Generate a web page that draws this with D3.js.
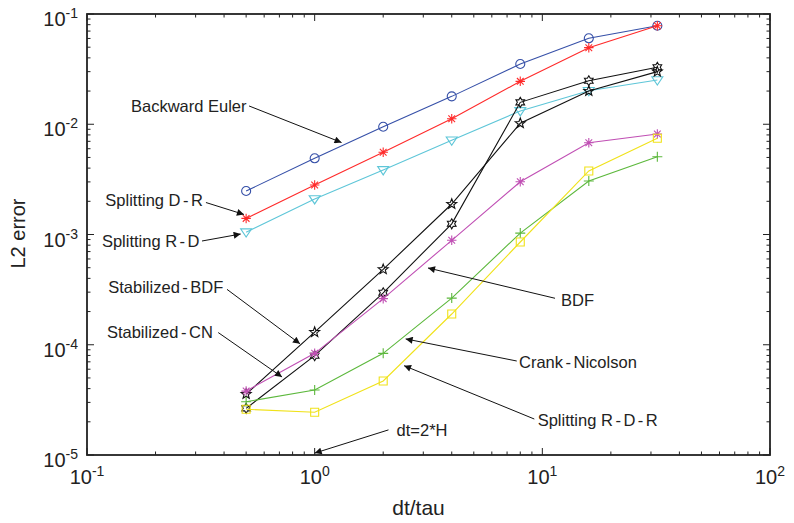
<!DOCTYPE html>
<html>
<head>
<meta charset="utf-8">
<script src="https://cdn.jsdelivr.net/npm/d3@7"></script>
<style>
  body { margin: 0; background: #fff; }
  text { font-family: "Liberation Sans", Arial, sans-serif; fill: #222; }
</style>
</head>
<body>
<div id="chart"></div>
<script>
// step ratio dt/tau used for every method
var dtRatio = [0.5, 1, 2, 4, 8, 16, 32];

// L2 error per method
var backwardEuler  = [2.48e-3, 4.91e-3, 9.5e-3, 1.79e-2, 3.52e-2, 6.02e-2, 7.83e-2];
var splittingDR    = [1.40e-3, 2.81e-3, 5.57e-3, 1.12e-2, 2.45e-2, 4.95e-2, 7.83e-2];
var splittingRD    = [1.05e-3, 2.10e-3, 3.85e-3, 7.15e-3, 1.32e-2, 2.01e-2, 2.52e-2];
var stabilizedBDF  = [3.57e-5, 1.30e-4, 4.83e-4, 1.89e-3, 1.02e-2, 2.00e-2, 3.00e-2];
var stabilizedCN   = [2.65e-5, 7.96e-5, 2.96e-4, 1.25e-3, 1.58e-2, 2.48e-2, 3.29e-2];
var bdf            = [3.80e-5, 8.36e-5, 2.62e-4, 8.86e-4, 3.01e-3, 6.80e-3, 8.16e-3];
var crankNicolson  = [3.04e-5, 3.89e-5, 8.36e-5, 2.65e-4, 1.03e-3, 3.06e-3, 5.08e-3];
var splittingRDR   = [2.60e-5, 2.44e-5, 4.69e-5, 1.90e-4, 8.55e-4, 3.77e-3, 7.46e-3];

var xTicks = [0.1, 1, 10, 100];
var yTicks = [1e-5, 1e-4, 1e-3, 1e-2, 1e-1];

// label, text anchor point, arrow start, arrow tip (all in data units)
var noteLabels = ["Backward Euler", "Splitting D-R", "Splitting R-D", "Stabilized-BDF",
                  "Stabilized-CN", "BDF", "Crank-Nicolson", "Splitting R-D-R", "dt=2*H"];
var noteText  = [[0.156, 1.465e-2], [0.323, 2.06e-3], [0.312, 8.79e-4], [0.397, 3.32e-4],
                 [0.357, 1.31e-4], [12.08, 2.55e-4], [7.90, 6.93e-5], [9.54, 2.08e-5], [2.29, 1.69e-5]];
var noteFrom  = [[0.515, 1.465e-2], [0.333, 1.95e-3], [0.320, 8.73e-4], [0.412, 3.18e-4],
                 [0.377, 1.29e-4], [11.37, 2.64e-4], [7.72, 7.12e-5], [9.22, 2.12e-5], [2.11, 1.69e-5]];
var noteTo    = [[1.312, 6.83e-3], [0.489, 1.52e-3], [0.473, 1.01e-3], [0.862, 1.02e-4],
                 [0.719, 5.10e-5], [3.146, 4.97e-4], [2.51, 1.13e-4], [2.47, 6.46e-5], [1.0, 1.04e-5]];
var noteAnchor = ["start", "end", "end", "end", "end", "start", "start", "start", "start"];

var svgWidth = 794;
var svgHeight = 523;
var margin = { top: 14, right: 24, bottom: 68, left: 87 };
var width = svgWidth - margin.left - margin.right;
var height = svgHeight - margin.top - margin.bottom;

var svg = d3.select("#chart")
  .append("svg")
  .attr("width", svgWidth)
  .attr("height", svgHeight);

svg.append("defs").append("marker")
  .attr("id", "head")
  .attr("viewBox", "0 0 10 10")
  .attr("refX", 10)
  .attr("refY", 5)
  .attr("markerWidth", 11)
  .attr("markerHeight", 7)
  .attr("markerUnits", "userSpaceOnUse")
  .attr("orient", "auto")
  .append("path")
  .attr("d", "M0,0 L10,5 L0,10 Z")
  .attr("fill", "#111");

var chart = svg.append("g")
  .attr("transform", `translate(${margin.left}, ${margin.top})`);

var xScale = d3.scaleLog().domain([0.1, 100]).range([0, width]);
var yScale = d3.scaleLog().domain([1e-5, 1e-1]).range([height, 0]);

// minor ticks 2..9 of each decade
function minors(lo, hi) {
  var out = [];
  for (var e = lo; e < hi; e++) {
    for (var k = 2; k <= 9; k++) out.push(k * Math.pow(10, e));
  }
  return out;
}
var xMinor = minors(-1, 2);
var yMinor = minors(-5, -1);

// ticks pointing inward on all four sides
var ticks = chart.append("g").attr("stroke", "#222").attr("stroke-width", 1);
function tickSet(vals, len) {
  vals.forEach(function (v) {
    var px = xScale(v);
    ticks.append("line").attr("x1", px).attr("x2", px).attr("y1", height).attr("y2", height - len);
    ticks.append("line").attr("x1", px).attr("x2", px).attr("y1", 0).attr("y2", len);
  });
}
function tickSetY(vals, len) {
  vals.forEach(function (v) {
    var py = yScale(v);
    ticks.append("line").attr("x1", 0).attr("x2", len).attr("y1", py).attr("y2", py);
    ticks.append("line").attr("x1", width).attr("x2", width - len).attr("y1", py).attr("y2", py);
  });
}
tickSet(xMinor, 3.5);
tickSet(xTicks, 7);
tickSetY(yMinor, 3.5);
tickSetY(yTicks, 7);

chart.append("rect")
  .attr("width", width)
  .attr("height", height)
  .attr("fill", "none")
  .attr("stroke", "#222")
  .attr("stroke-width", 1.8);

// tick labels 10^n
xTicks.forEach(function (v) {
  var t = chart.append("text")
    .attr("x", xScale(v))
    .attr("y", height + 29)
    .attr("text-anchor", "middle")
    .style("font-size", "20px");
  t.append("tspan").text("10");
  t.append("tspan").attr("dy", -8).style("font-size", "14px").text(Math.round(Math.log10(v)));
});
yTicks.forEach(function (v) {
  var t = chart.append("text")
    .attr("x", -9)
    .attr("y", yScale(v) + 12)
    .attr("text-anchor", "end")
    .style("font-size", "20px");
  t.append("tspan").text("10");
  t.append("tspan").attr("dy", -8).style("font-size", "14px").text(Math.round(Math.log10(v)));
});

chart.append("text")
  .attr("transform", "rotate(-90)")
  .attr("x", -height / 2 + 1)
  .attr("y", -62)
  .attr("text-anchor", "middle")
  .style("font-size", "20px")
  .text("L2 error");

chart.append("text")
  .attr("x", width / 2 - 10)
  .attr("y", height + 60)
  .attr("text-anchor", "middle")
  .style("font-size", "21px")
  .text("dt/tau");

// marker shapes
function star(points, inner) {
  return {
    draw: function (ctx, size) {
      var r = Math.sqrt(size) / 2;
      for (var i = 0; i < points * 2; i++) {
        var a = Math.PI * i / points - Math.PI / 2;
        var rr = i % 2 ? r * inner : r;
        if (i === 0) ctx.moveTo(rr * Math.cos(a), rr * Math.sin(a));
        else ctx.lineTo(rr * Math.cos(a), rr * Math.sin(a));
      }
      ctx.closePath();
    }
  };
}
var asterisk8 = {
  draw: function (ctx, size) {
    var r = Math.sqrt(size) / 2, d = r * 0.7071;
    ctx.moveTo(-r, 0); ctx.lineTo(r, 0);
    ctx.moveTo(0, -r); ctx.lineTo(0, r);
    ctx.moveTo(-d, -d); ctx.lineTo(d, d);
    ctx.moveTo(-d, d); ctx.lineTo(d, -d);
  }
};
var triDown = {
  draw: function (ctx, size) {
    var r = Math.sqrt(size) / 2;
    ctx.moveTo(-r, -r * 0.6); ctx.lineTo(r, -r * 0.6); ctx.lineTo(0, r * 0.9); ctx.closePath();
  }
};
var plusMark = {
  draw: function (ctx, size) {
    var r = Math.sqrt(size) / 2;
    ctx.moveTo(-r, 0); ctx.lineTo(r, 0);
    ctx.moveTo(0, -r); ctx.lineTo(0, r);
  }
};
var squareMark = {
  draw: function (ctx, size) {
    var r = Math.sqrt(size) / 2;
    ctx.rect(-r, -r, 2 * r, 2 * r);
  }
};

var series = [
  { name: "Backward Euler", values: backwardEuler, color: "#3650a8", shape: d3.symbolCircle, size: 64 },
  { name: "Splitting D-R", values: splittingDR, color: "#ff2a2a", shape: asterisk8, size: 90 },
  { name: "Splitting R-D", values: splittingRD, color: "#5ec6d8", shape: triDown, size: 121 },
  { name: "Stabilized-BDF", values: stabilizedBDF, color: "#111111", shape: star(5, 0.42), size: 110 },
  { name: "Stabilized-CN", values: stabilizedCN, color: "#111111", shape: star(6, 0.58), size: 100 },
  { name: "BDF", values: bdf, color: "#c04fb4", shape: asterisk8, size: 90 },
  { name: "Crank-Nicolson", values: crankNicolson, color: "#5cb83c", shape: plusMark, size: 100 },
  { name: "Splitting R-D-R", values: splittingRDR, color: "#f0e21a", shape: squareMark, size: 64 }
];

var line = d3.line()
  .x(function (d) { return xScale(d[0]); })
  .y(function (d) { return yScale(d[1]); });

series.forEach(function (s) {
  var pts = dtRatio.map(function (x, i) { return [x, s.values[i]]; });
  var g = chart.append("g");
  g.append("path")
    .attr("d", line(pts))
    .attr("fill", "none")
    .attr("stroke", s.color)
    .attr("stroke-width", 1.1);
  g.selectAll("path.mk")
    .data(pts)
    .enter()
    .append("path")
    .attr("class", "mk")
    .attr("transform", function (d) { return `translate(${xScale(d[0])}, ${yScale(d[1])})`; })
    .attr("d", d3.symbol().type(s.shape).size(s.size))
    .attr("fill", "none")
    .attr("stroke", s.color)
    .attr("stroke-width", 1.1);
});

// annotations with arrows; hyphens get a little air like the original
noteLabels.forEach(function (label, i) {
  chart.append("line")
    .attr("x1", xScale(noteFrom[i][0]))
    .attr("y1", yScale(noteFrom[i][1]))
    .attr("x2", xScale(noteTo[i][0]))
    .attr("y2", yScale(noteTo[i][1]))
    .attr("stroke", "#111")
    .attr("stroke-width", 1)
    .attr("marker-end", "url(#head)");
  var t = chart.append("text")
    .attr("x", xScale(noteText[i][0]))
    .attr("y", yScale(noteText[i][1]))
    .attr("dy", "0.36em")
    .attr("text-anchor", noteAnchor[i])
    .style("font-size", "16.5px");
  var parts = label.split("-");
  parts.forEach(function (p, j) {
    if (j > 0) {
      t.append("tspan").attr("dx", 2.5).text("-");
      t.append("tspan").attr("dx", 2.5).text(p);
    } else {
      t.append("tspan").text(p);
    }
  });
});
</script>
</body>
</html>
